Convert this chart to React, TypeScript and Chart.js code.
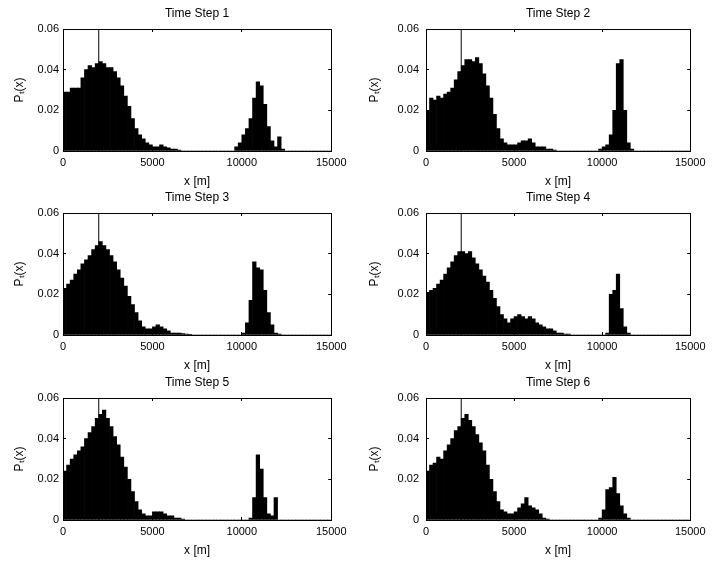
import React, { useEffect, useRef } from "react";
import { Chart, registerables } from "chart.js";

Chart.register(...registerables);

// ---- data ----
const BIN_WIDTH = 200; // histogram bin width [m]
const X_MIN = 0;
const X_MAX = 15000;
const X_STEP = 5000;
const Y_MIN = 0;
const Y_MAX = 0.06;
const Y_STEP = 0.02;
const MARKER_X = 2000;

const TITLES = ["Time Step 1", "Time Step 2", "Time Step 3", "Time Step 4", "Time Step 5", "Time Step 6"];
const X_LABEL = "x [m]";
const Y_LABEL = "Pₜ(x)";

const STEP1 = [
  0.029, 0.029, 0.031, 0.031, 0.031, 0.036, 0.040, 0.042, 0.041, 0.043,
  0.044, 0.043, 0.041, 0.041, 0.039, 0.036, 0.032, 0.027, 0.022, 0.016,
  0.011, 0.008, 0.006, 0.004, 0.003, 0.002, 0.002, 0.003, 0.002, 0.0015,
  0.001, 0.001, 0.0005, 0, 0, 0, 0, 0, 0, 0,
  0, 0, 0, 0, 0, 0, 0, 0, 0.002, 0.004,
  0.008, 0.011, 0.016, 0.026, 0.034, 0.032, 0.023, 0.012, 0.005, 0.002,
  0.007, 0.001, 0, 0, 0, 0, 0, 0, 0, 0,
  0, 0, 0, 0, 0,
];
const STEP2 = [
  0.020, 0.026, 0.025, 0.027, 0.026, 0.028, 0.029, 0.031, 0.035, 0.039,
  0.042, 0.045, 0.045, 0.044, 0.046, 0.043, 0.038, 0.032, 0.026, 0.018,
  0.011, 0.006, 0.004, 0.003, 0.003, 0.003, 0.004, 0.005, 0.005, 0.006,
  0.004, 0.002, 0.002, 0.002, 0.001, 0.001, 0.0005, 0, 0, 0,
  0, 0, 0, 0, 0, 0, 0, 0, 0, 0.001,
  0.002, 0.003, 0.008, 0.020, 0.043, 0.045, 0.020, 0.004, 0.001, 0,
  0, 0, 0, 0, 0, 0, 0, 0, 0, 0,
  0, 0, 0, 0, 0,
];
const STEP3 = [
  0.023, 0.025, 0.027, 0.030, 0.032, 0.035, 0.037, 0.039, 0.042, 0.044,
  0.046, 0.044, 0.042, 0.039, 0.036, 0.032, 0.028, 0.024, 0.019, 0.015,
  0.011, 0.007, 0.004, 0.003, 0.003, 0.004, 0.005, 0.004, 0.003, 0.002,
  0.001, 0.001, 0.001, 0.0007, 0.0005, 0.0003, 0, 0, 0, 0,
  0, 0, 0, 0, 0, 0, 0, 0, 0, 0,
  0.001, 0.006, 0.017, 0.036, 0.033, 0.032, 0.022, 0.011, 0.005, 0.001,
  0.0005, 0, 0, 0, 0, 0, 0, 0, 0, 0,
  0, 0, 0, 0, 0,
];
const STEP4 = [
  0.021, 0.022, 0.023, 0.025, 0.027, 0.030, 0.033, 0.036, 0.039, 0.041,
  0.041, 0.040, 0.041, 0.038, 0.035, 0.032, 0.029, 0.026, 0.022, 0.018,
  0.014, 0.010, 0.008, 0.006, 0.008, 0.009, 0.010, 0.009, 0.008, 0.009,
  0.008, 0.006, 0.005, 0.004, 0.003, 0.003, 0.002, 0.001, 0.001, 0.0005,
  0.0005, 0, 0, 0, 0, 0, 0, 0, 0, 0,
  0, 0.001, 0.020, 0.022, 0.030, 0.013, 0.004, 0.001, 0, 0,
  0, 0, 0, 0, 0, 0, 0, 0, 0, 0,
  0, 0, 0, 0, 0,
];
const STEP5 = [
  0.024, 0.027, 0.030, 0.032, 0.034, 0.036, 0.040, 0.043, 0.046, 0.050,
  0.052, 0.054, 0.050, 0.046, 0.041, 0.037, 0.031, 0.026, 0.020, 0.014,
  0.009, 0.005, 0.003, 0.002, 0.002, 0.004, 0.004, 0.004, 0.003, 0.002,
  0.002, 0.001, 0.001, 0.0005, 0, 0, 0, 0, 0, 0,
  0, 0, 0, 0, 0, 0, 0, 0, 0, 0,
  0, 0, 0.001, 0.011, 0.032, 0.025, 0.011, 0.003, 0.002, 0.011,
  0, 0, 0, 0, 0, 0, 0, 0, 0, 0,
  0, 0, 0, 0, 0,
];
const STEP6 = [
  0.024, 0.027, 0.028, 0.031, 0.030, 0.034, 0.037, 0.040, 0.044, 0.046,
  0.050, 0.052, 0.049, 0.046, 0.042, 0.038, 0.034, 0.027, 0.020, 0.014,
  0.009, 0.005, 0.004, 0.003, 0.003, 0.004, 0.006, 0.008, 0.011, 0.007,
  0.006, 0.005, 0.003, 0.001, 0.0005, 0, 0, 0, 0, 0,
  0, 0, 0, 0, 0, 0, 0, 0, 0, 0.001,
  0.005, 0.015, 0.016, 0.021, 0.013, 0.007, 0.003, 0.001, 0, 0,
  0, 0, 0, 0, 0, 0, 0, 0, 0, 0,
  0, 0, 0, 0, 0,
];
const SERIES = [STEP1, STEP2, STEP3, STEP4, STEP5, STEP6];

// ---- layout (pixels) ----
const ROW_TOP = [0, 184, 369];
const COL_LEFT = [0, 355];
const COL_WIDTH = [355, 359];
const Y_AXIS_W = [63, 71];
const Y_TICK_PAD = [7, 10];
const CANVAS_H = 192;
const PLOT_W = 269;
const PLOT_H = 122;
const TITLE_BLOCK = 25; // title padding + line height
const TOP_AXIS_H = 4;
const FONT = "'Liberation Sans', Arial, Helvetica, sans-serif";

Chart.defaults.font.family = FONT;
Chart.defaults.font.size = 11;
Chart.defaults.color = "#000";

function Panel({ index }: { index: number }) {
  const ref = useRef<HTMLCanvasElement | null>(null);
  const col = index % 2;
  const row = Math.floor(index / 2);
  useEffect(() => {
    if (!ref.current) return;
    const values = SERIES[index];
    const bars = values.map((v, i) => ({ x: X_MIN + BIN_WIDTH * i + BIN_WIDTH / 2, y: v }));
    const marker = [
      { x: MARKER_X, y: Y_MIN },
      { x: MARKER_X, y: Y_MAX },
    ];
    const rightPad = COL_WIDTH[col] - Y_AXIS_W[col] - PLOT_W;
    const xAxisH = CANVAS_H - TITLE_BLOCK - TOP_AXIS_H - PLOT_H;
    const tickGrid = {
      display: true,
      offset: false,
      drawOnChartArea: false,
      drawTicks: true,
      tickLength: -3,
      color: "#000",
      lineWidth: 1,
    };
    const border = { display: true, color: "#000", width: 1 };
    const chart = new Chart(ref.current, {
      type: "bar",
      data: {
        datasets: [
          {
            type: "bar",
            data: bars,
            backgroundColor: "#000",
            borderWidth: 0,
            barPercentage: 1,
            categoryPercentage: 1,
            order: 1,
          } as any,
          {
            type: "line",
            data: marker,
            borderColor: "#000",
            borderWidth: 1,
            pointRadius: 0,
            order: 2,
          } as any,
        ],
      },
      options: {
        animation: false,
        responsive: false,
        events: [],
        layout: { padding: { left: 0, top: 0, bottom: 0, right: rightPad } },
        plugins: {
          legend: { display: false },
          tooltip: { enabled: false },
          title: {
            display: true,
            text: TITLES[index],
            fullSize: false,
            color: "#000",
            font: { size: 12, lineHeight: "14px", weight: "normal" },
            padding: { top: 7, bottom: 4 },
          },
        },
        scales: {
          x: {
            type: "linear",
            position: "bottom",
            min: X_MIN,
            max: X_MAX,
            offset: false,
            grid: tickGrid,
            border,
            ticks: {
              stepSize: X_STEP,
              padding: 8.5,
              color: "#000",
              maxRotation: 0,
              autoSkip: false,
              font: { size: 11, lineHeight: "13px" },
              callback: (v: any) => String(v),
            },
            title: {
              display: true,
              text: X_LABEL,
              color: "#000",
              font: { size: 12, lineHeight: "14px" },
              padding: { top: 0, bottom: 3 },
            },
            afterFit: (s: any) => {
              s.height = xAxisH;
            },
          },
          x2: {
            type: "linear",
            position: "top",
            min: X_MIN,
            max: X_MAX,
            offset: false,
            grid: tickGrid,
            border,
            ticks: { stepSize: X_STEP, display: false },
            afterFit: (s: any) => {
              s.height = TOP_AXIS_H;
            },
          },
          y: {
            type: "linear",
            position: "left",
            min: Y_MIN,
            max: Y_MAX,
            grid: tickGrid,
            border,
            ticks: {
              stepSize: Y_STEP,
              padding: Y_TICK_PAD[col],
              color: "#000",
              font: { size: 11, lineHeight: "13px" },
            },
            title: {
              display: true,
              text: Y_LABEL,
              color: "#000",
              font: { size: 12, lineHeight: "14px" },
              padding: { top: 13, bottom: 0 },
            },
            afterFit: (s: any) => {
              s.width = Y_AXIS_W[col];
            },
          },
          y2: {
            type: "linear",
            position: "right",
            min: Y_MIN,
            max: Y_MAX,
            grid: tickGrid,
            border,
            ticks: { stepSize: Y_STEP, display: false },
            afterFit: (s: any) => {
              s.width = 0;
            },
          },
        },
      } as any,
    });
    return () => chart.destroy();
  }, [index, col]);
  return (
    <canvas
      ref={ref}
      width={COL_WIDTH[col]}
      height={CANVAS_H}
      style={{
        position: "absolute",
        left: COL_LEFT[col],
        top: ROW_TOP[row],
        width: COL_WIDTH[col],
        height: CANVAS_H,
        display: "block",
      }}
    />
  );
}

export default function App() {
  return (
    <div
      style={{
        position: "absolute",
        left: 0,
        top: 0,
        width: 714,
        height: 562,
        background: "#fff",
        overflow: "hidden",
      }}
    >
      {TITLES.map((_, i) => (
        <Panel key={i} index={i} />
      ))}
    </div>
  );
}
